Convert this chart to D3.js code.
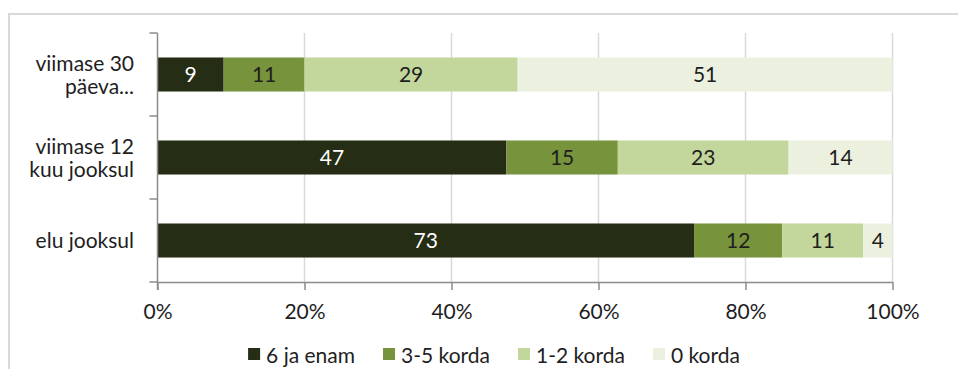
<!DOCTYPE html>
<html>
<head>
<meta charset="utf-8">
<script src="https://cdn.jsdelivr.net/npm/d3@7"></script>
<style>
  html, body { margin: 0; padding: 0; background: #fff; }
  svg { display: block; }
  text { font-family: Lato, "Open Sans", sans-serif; fill: #1e1e1e; }
</style>
</head>
<body>
<svg id="chart" width="958" height="369"></svg>
<script>
// Response categories, top to bottom
const categories = ["viimase 30 päeva...", "viimase 12 kuu jooksul", "elu jooksul"];
// Wrapped lines for each category label
const categoryLines = [["viimase 30", "päeva..."], ["viimase 12", "kuu jooksul"], ["elu jooksul"]];

// Series (share of respondents, %)
const seriesNames = ["6 ja enam", "3-5 korda", "1-2 korda", "0 korda"];
const sixOrMore = [9, 47, 73];
const threeToFive = [11, 15, 12];
const oneToTwo = [29, 23, 11];
const zeroTimes = [51, 14, 4];

const tickValues = [0, 20, 40, 60, 80, 100];
const colors = ["#262d15", "#77933c", "#c3d69b", "#ebf1de"];
const labelColors = ["#ffffff", "#1e1e1e", "#1e1e1e", "#1e1e1e"];

const seriesValues = [sixOrMore, threeToFive, oneToTwo, zeroTimes];
const rows = categories.map((c, i) => {
  const r = { category: c };
  seriesNames.forEach((s, j) => { r[s] = seriesValues[j][i]; });
  return r;
});

const svg = d3.select("#chart");
const FONT = 21;

// Outer chart frame
svg.append("rect")
  .attr("x", 9).attr("y", 14)
  .attr("width", 1000).attr("height", 400)
  .attr("fill", "none")
  .attr("stroke", "#d9d9d9")
  .attr("stroke-width", 2);

const plot = { left: 157.5, right: 892.5, top: 33, bottom: 282 };

// 100% stacked: each row is normalised to its own total
const x = d3.scaleLinear().domain([0, 1]).range([plot.left, plot.right]);
const y = d3.scaleBand().domain(categories).range([plot.top, plot.bottom])
  .paddingInner(0.59).paddingOuter(0.295);

// Vertical gridlines
svg.append("g")
  .selectAll("line")
  .data(tickValues.filter(t => t > 0))
  .join("line")
  .attr("x1", d => x(d / 100)).attr("x2", d => x(d / 100))
  .attr("y1", plot.top).attr("y2", plot.bottom)
  .attr("stroke", "#d9d9d9")
  .attr("stroke-width", 1.5);

// Stacked bars
const stack = d3.stack().keys(seriesNames).offset(d3.stackOffsetExpand);
const stacked = stack(rows);

const layers = svg.append("g")
  .selectAll("g")
  .data(stacked)
  .join("g")
  .attr("fill", (d, i) => colors[i]);

layers.selectAll("rect")
  .data(d => d.map(p => ({ p, key: d.key })))
  .join("rect")
  .attr("x", d => x(d.p[0]))
  .attr("y", d => y(d.p.data.category))
  .attr("width", d => x(d.p[1]) - x(d.p[0]))
  .attr("height", y.bandwidth());

// Value labels inside segments
const labelG = svg.append("g");
stacked.forEach((layer, i) => {
  labelG.selectAll(null)
    .data(layer)
    .join("text")
    .attr("x", d => (x(d[0]) + x(d[1])) / 2)
    .attr("y", d => y(d.data.category) + y.bandwidth() / 2)
    .attr("dy", "0.36em")
    .attr("text-anchor", "middle")
    .attr("font-size", FONT)
    .style("fill", labelColors[i])
    .text(d => d.data[layer.key]);
});

// Category axis (left)
const catTicks = [plot.top, ...categories.map((c, i) => plot.top + (i + 1) * (plot.bottom - plot.top) / categories.length)];
const axisG = svg.append("g");
axisG.append("line")
  .attr("x1", plot.left).attr("x2", plot.left)
  .attr("y1", plot.top).attr("y2", plot.bottom + 8)
  .attr("stroke", "#8c8c8c").attr("stroke-width", 1.5);
axisG.selectAll(".ctick")
  .data(catTicks)
  .join("line")
  .attr("x1", plot.left - 8).attr("x2", plot.left)
  .attr("y1", d => d).attr("y2", d => d)
  .attr("stroke", "#8c8c8c").attr("stroke-width", 1.5);

categories.forEach((c, i) => {
  const lines = categoryLines[i];
  const cy = y(c) + y.bandwidth() / 2;
  const lineH = 23;
  const t = svg.append("text")
    .attr("text-anchor", "end")
    .attr("font-size", FONT);
  lines.forEach((ln, k) => {
    t.append("tspan")
      .attr("x", 134)
      .attr("y", cy + (k - (lines.length - 1) / 2) * lineH)
      .attr("dy", "0.36em")
      .text(ln);
  });
});

// Value axis (bottom)
const xAxis = d3.axisBottom(x)
  .tickValues(tickValues.map(t => t / 100))
  .tickFormat(d => Math.round(d * 100) + "%")
  .tickSize(8)
  .tickSizeOuter(0)
  .tickPadding(14);
const xg = svg.append("g")
  .attr("transform", `translate(0,${plot.bottom})`)
  .call(xAxis);
xg.select(".domain").attr("stroke", "#8c8c8c").attr("stroke-width", 1.5);
xg.selectAll(".tick line").attr("stroke", "#8c8c8c").attr("stroke-width", 1.5);
xg.selectAll(".tick text")
  .attr("font-size", FONT)
  .attr("font-family", "Lato, 'Open Sans', sans-serif")
  .style("fill", "#1e1e1e");

// Legend
const legend = svg.append("g");
const sw = 12, swGap = 6, itemGap = 28;
const items = legend.selectAll("g")
  .data(seriesNames)
  .join("g");
items.append("rect")
  .attr("width", sw).attr("height", sw)
  .attr("y", -sw / 2 - 1)
  .attr("fill", (d, i) => colors[i]);
items.append("text")
  .attr("x", sw + swGap)
  .attr("dy", "0.36em")
  .attr("font-size", FONT)
  .text(d => d);
const widths = [];
items.each(function () {
  widths.push(sw + swGap + this.querySelector("text").getComputedTextLength());
});
const total = d3.sum(widths) + itemGap * (widths.length - 1);
let cursor = 494 - total / 2;
items.attr("transform", (d, i) => {
  const tx = cursor;
  cursor += widths[i] + itemGap;
  return `translate(${tx},355)`;
});
</script>
</body>
</html>
